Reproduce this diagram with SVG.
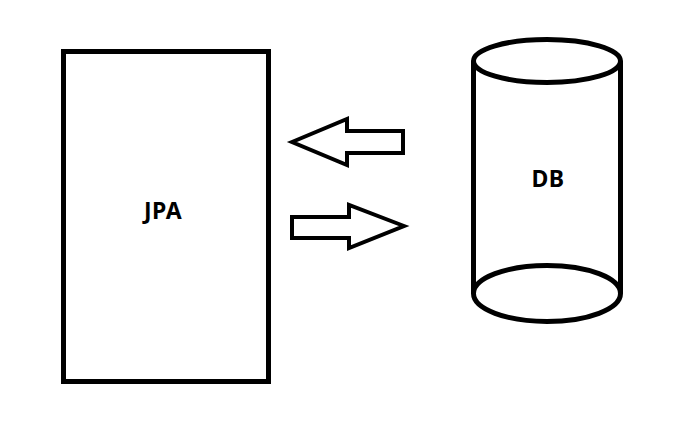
<svg xmlns="http://www.w3.org/2000/svg" width="691" height="441" viewBox="0 0 691 441">
<style>
.s{fill:#fff;stroke:#000;stroke-width:5}
.a{fill:#fff;stroke:#000;stroke-width:4;stroke-linejoin:miter}
.t{font-family:"Noto Sans","Open Sans",sans-serif;font-weight:bold;font-size:23px;fill:#000;text-anchor:middle;letter-spacing:0.5px}
</style>
<rect width="691" height="441" fill="#fff"/>
<g id="jpa">
<rect class="s" x="63.5" y="51.5" width="205" height="330"/>
<text class="t" x="163" y="219">JPA</text>
</g>
<g id="db">
<path d="M473.5,61 V293.5 H620.5 V61 Z" fill="#fff"/>
<line x1="473.5" y1="61" x2="473.5" y2="293.5" stroke="#000" stroke-width="5"/>
<line x1="620.5" y1="61" x2="620.5" y2="293.5" stroke="#000" stroke-width="5"/>
<ellipse class="s" cx="547" cy="293.5" rx="73.5" ry="28"/>
<ellipse class="s" cx="547" cy="61" rx="73.5" ry="21.5"/>
<text class="t" x="548" y="187">DB</text>
</g>
<g id="connectors">
<polygon class="a" points="292,142 347,119 347,131 403,131 403,153 347,153 347,165"/>
<polygon class="a" points="404,226 349,205 349,217 292,217 292,238 349,238 349,248"/>
</g>
</svg>
